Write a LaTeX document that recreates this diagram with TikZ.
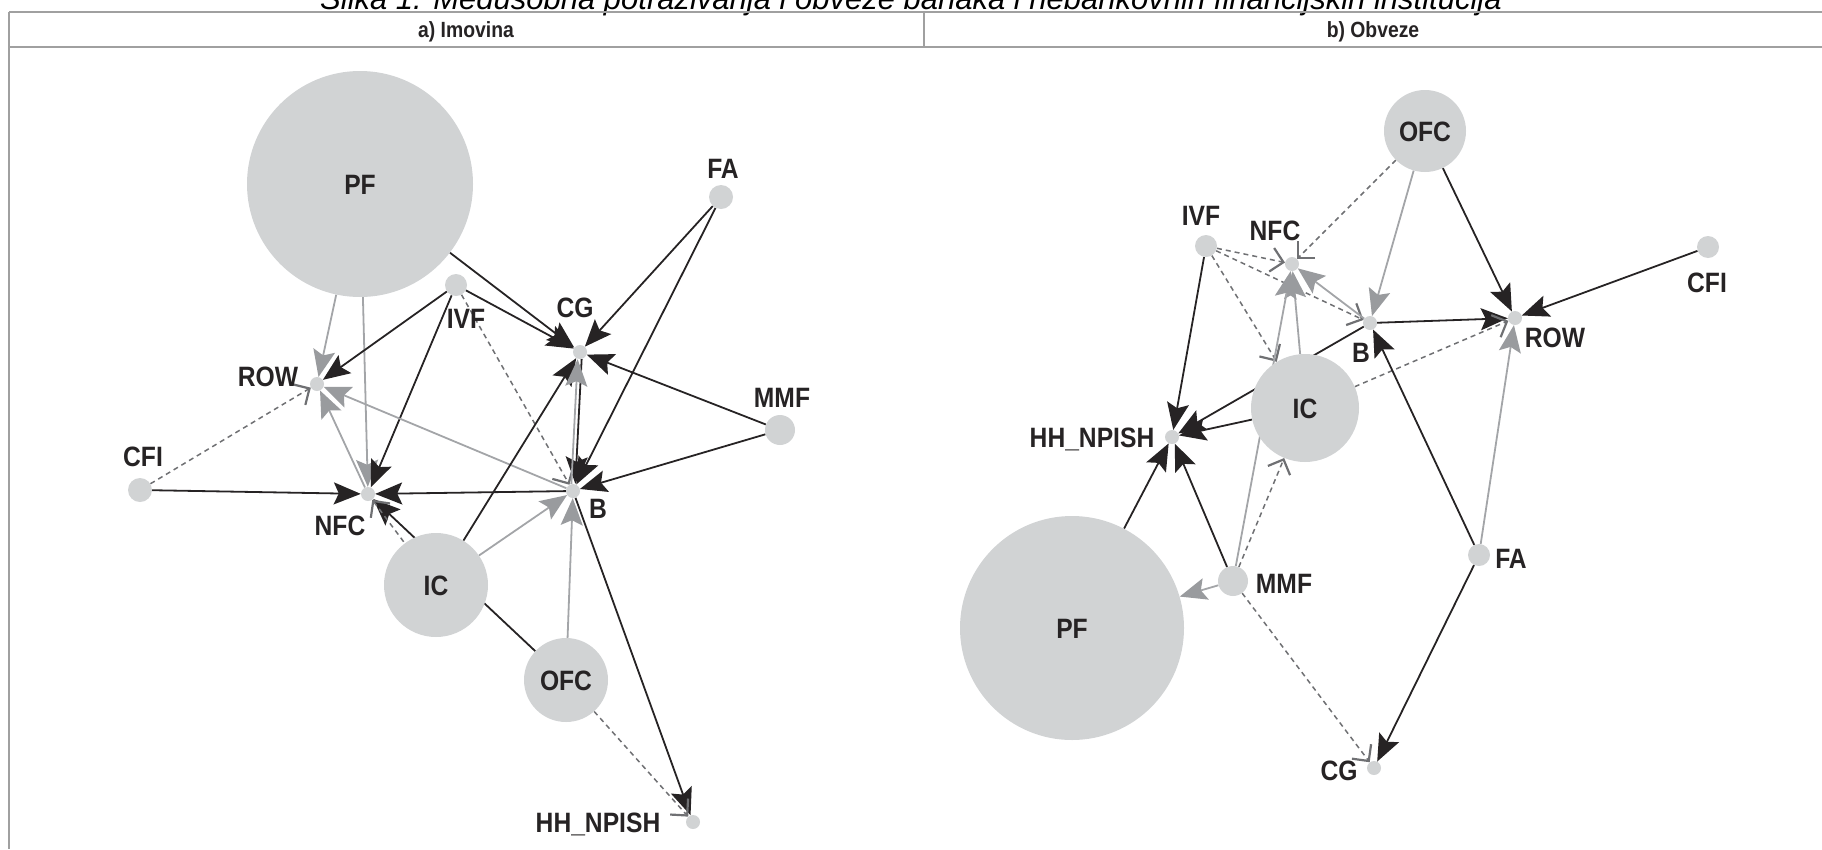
\documentclass[tikz,border=0pt]{standalone}
\usepackage{fontspec}
\setmainfont{Liberation Sans}
\newfontfamily\mynarrowfont[FakeStretch=0.88]{Liberation Sans}
\usetikzlibrary{arrows.meta,backgrounds}
\definecolor{nodegrey}{HTML}{D1D3D4}
\definecolor{lineblack}{HTML}{262324}
\definecolor{linegrey}{HTML}{A3A5A8}
\definecolor{headgrey}{HTML}{999B9E}
\definecolor{dashgrey}{HTML}{6F7073}
\definecolor{framegrey}{HTML}{A0A0A0}
\newcommand\mylabfont{\mynarrowfont\bfseries\fontsize{28}{30}\selectfont}
\newcommand\myheadfont{\mynarrowfont\bfseries\fontsize{22}{24}\selectfont}
\newcommand\mytitlefont{\itshape\fontsize{31}{34}\selectfont}
\tikzset{
  bignode/.style={circle, fill=nodegrey, inner sep=0pt, minimum size=#1, font=\mylabfont, text height=20pt, text depth=0pt, text=lineblack},
  smnode/.style={circle, fill=nodegrey, inner sep=0pt, minimum size=14pt},
  lbl/.style={font=\mylabfont, inner sep=0pt, text height=20pt, text depth=0pt, text=lineblack},
  blk/.style={draw=lineblack, line width=1.8pt, -{Stealth[length=27pt,width=22pt,inset=5pt]}},
  gry/.style={draw=linegrey, line width=1.8pt, -{Stealth[length=27pt,width=22pt,inset=5pt,fill=headgrey,color=headgrey]}},
  dsh/.style={draw=dashgrey, line width=1.5pt, dash pattern=on 5pt off 4pt, -{Straight Barb[length=12pt,width=24pt,line width=2.2pt]}},
  frame/.style={draw=framegrey, line width=2.5pt}
}
\begin{document}
\begin{tikzpicture}[x=1pt,y=-1pt]
\useasboundingbox (0,0) rectangle (1822,849);
% title and frame
\node[font=\mytitlefont, anchor=base, inner sep=0pt] (title) at (911,9) {Slika 1. Međusobna potraživanja i obveze banaka i nebankovnih financijskih institucija};
\coordinate (tl) at (9,12);
\coordinate (tr) at (1822,12);
\coordinate (ml) at (9,47);
\coordinate (mr) at (1822,47);
\coordinate (bl) at (9,849);
\coordinate (dt) at (924,12);
\coordinate (db) at (924,47);
\draw[frame] (tl) -- (tr);
\draw[frame] (ml) -- (mr);
\draw[frame] (tl) -- (bl);
\draw[frame] (dt) -- (db);
\node[font=\myheadfont, inner sep=0pt, text=lineblack] (ha) at (466,32) {a) Imovina};
\node[font=\myheadfont, inner sep=0pt, text=lineblack] (hb) at (1373,32) {b) Obveze};

% ---- left panel nodes ----
\node[bignode=226pt] (aPF) at (360,184) {PF};
\node[bignode=24pt] (aFA) at (721,197) {};
\node[bignode=22pt] (aIVF) at (456,285) {};
\node[smnode] (aCG) at (580,352) {};
\node[smnode] (aROW) at (317,384) {};
\node[bignode=30pt] (aMMF) at (780,430) {};
\node[bignode=24pt] (aCFI) at (140,490) {};
\node[smnode] (aNFC) at (368,494) {};
\node[smnode] (aB) at (573,491) {};
\node[bignode=104pt] (aIC) at (436,585) {IC};
\node[bignode=84pt] (aOFC) at (566,680) {OFC};
\node[smnode] (aHH) at (693,822) {};
% left labels
\node[lbl] (laROW) at (268,376) {ROW};
\node[lbl] (laFA) at (723,168) {FA};
\node[lbl] (laIVF) at (466,318) {IVF};
\node[lbl] (laCG) at (575,307) {CG};
\node[lbl] (laMMF) at (782,397) {MMF};
\node[lbl] (laCFI) at (143,456) {CFI};
\node[lbl] (laNFC) at (340,525) {NFC};
\node[lbl] (laB) at (598,508) {B};
\node[lbl] (laHH) at (598,822) {HH\_NPISH};

% ---- right panel nodes ----
\node[bignode=82pt] (bOFC) at (1425,131) {OFC};
\node[bignode=22pt] (bIVF) at (1206,246) {};
\node[smnode] (bNFC) at (1292,264) {};
\node[smnode] (bB) at (1370,323) {};
\node[smnode] (bROW) at (1515,318) {};
\node[bignode=22pt] (bCFI) at (1708,247) {};
\node[bignode=108pt] (bIC) at (1305,408) {IC};
\node[smnode] (bHH) at (1172,437) {};
\node[bignode=30pt] (bMMF) at (1233,581) {};
\node[bignode=22pt] (bFA) at (1479,555) {};
\node[bignode=224pt] (bPF) at (1072,628) {PF};
\node[smnode] (bCG) at (1374,768) {};
% right labels
\node[lbl] (lbIVF) at (1201,215) {IVF};
\node[lbl] (lbNFC) at (1275,230) {NFC};
\node[lbl] (lbB) at (1361,352) {B};
\node[lbl] (lbROW) at (1555,337) {ROW};
\node[lbl] (lbCFI) at (1707,282) {CFI};
\node[lbl] (lbHH) at (1092,437) {HH\_NPISH};
\node[lbl] (lbMMF) at (1284,583) {MMF};
\node[lbl] (lbFA) at (1511,558) {FA};
\node[lbl] (lbCG) at (1339,770) {CG};

\begin{pgfonlayer}{background}
% left panel edges
\draw[blk] (aPF) -- (aCG);
\draw[gry] (aPF) -- (aROW);
\draw[gry] (aPF) -- (aNFC);
\draw[blk] (aIVF) -- (aROW);
\draw[blk] (aIVF) -- (aCG);
\draw[blk] (aIVF) -- (aNFC);
\draw[dsh] (aIVF) -- (aB);
\draw[blk] (aFA) -- (aCG);
\draw[blk] (aFA) -- (aB);
\draw[blk] (aMMF) -- (aCG);
\draw[blk] (aMMF) -- (aB);
\draw[dsh] (aCFI) -- (aROW);
\draw[blk] (aCFI) -- (aNFC);
\draw[blk] (aB) -- (aNFC);
\draw[gry] (aB) -- (aROW);
\draw[gry] (aNFC) -- (aROW);
\draw[blk] (aOFC) -- (aNFC);
\draw[dsh] (aIC.center) -- (aNFC);
\draw[blk] (aIC) -- (aCG);
\draw[gry] (aIC) -- (aB);
\draw[gry] (aOFC) -- (aB);
\draw[blk, transform canvas={xshift=2pt}] (aCG) -- (aB);
\draw[gry, transform canvas={xshift=-2pt}] (aB) -- (aCG);
\draw[blk] (aB) -- (aHH);
\draw[dsh] (aOFC) -- (aHH);
% right panel edges
\draw[blk] (bOFC) -- (bROW);
\draw[gry] (bOFC) -- (bB);
\draw[dsh] (bOFC) -- (bNFC);
\draw[dsh] (bIVF) -- (bNFC);
\draw[dsh] (bIVF) -- (bB);
\draw[dsh] (bIVF) -- (bIC);
\draw[blk] (bIVF) -- (bHH);
\draw[gry] (bB) -- (bNFC);
\draw[gry] (bIC) -- (bNFC);
\draw[gry] (bMMF) -- (bNFC);
\draw[blk] (bB) -- (bROW);
\draw[blk] (bB) -- (bHH);
\draw[blk] (bIC) -- (bHH);
\draw[dsh] (bIC) -- (bROW);
\draw[blk] (bCFI) -- (bROW);
\draw[gry] (bFA) -- (bROW);
\draw[blk] (bFA) -- (bB);
\draw[blk] (bFA) -- (bCG);
\draw[blk] (bMMF) -- (bHH);
\draw[blk] (bPF) -- (bHH);
\draw[gry] (bMMF) -- (bPF);
\draw[dsh] (bMMF) -- (bIC);
\draw[dsh] (bMMF) -- (bCG);
\end{pgfonlayer}
\end{tikzpicture}
\end{document}
